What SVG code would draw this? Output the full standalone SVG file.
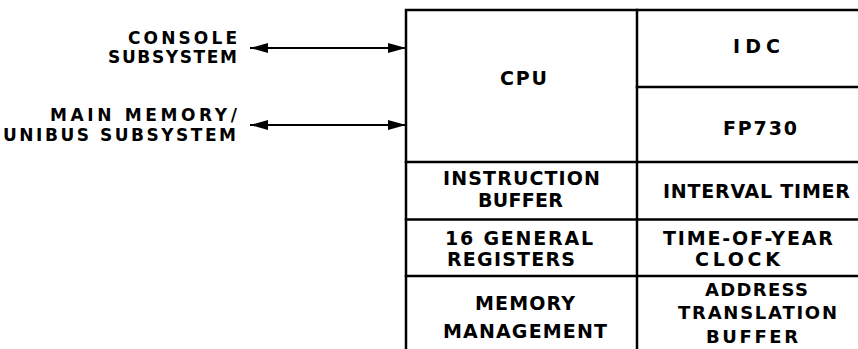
<svg xmlns="http://www.w3.org/2000/svg" width="858" height="349" viewBox="0 0 858 349">
  <style>
    .lbl { font-family: "DejaVu Sans", "Liberation Sans", sans-serif; font-weight: bold; font-size: 17px; fill: #000; }
    .cell { font-family: "DejaVu Sans", "Liberation Sans", sans-serif; font-weight: bold; font-size: 19px; fill: #000; }
    .tight { font-size: 18px; }
    .frame { stroke: #000; stroke-width: 2.5; fill: none; stroke-linecap: square; }
    .link { stroke: #000; stroke-width: 2.2; fill: none; }
  </style>
  <defs>
    <marker id="head" viewBox="0 0 18 10" refX="18" refY="5" markerWidth="18" markerHeight="10" markerUnits="userSpaceOnUse" orient="auto-start-reverse">
      <path d="M0,0 L18,5 L0,10 Z" fill="#000"/>
    </marker>
  </defs>

  <rect width="858" height="349" fill="#fff"/>

  <!-- processor block frame and cell dividers -->
  <g id="frame" class="frame">
    <path d="M406,349 V10 H860"/>
    <path d="M637,10 V349"/>
    <path d="M637,87 H860"/>
    <path d="M406,162 H860"/>
    <path d="M406,219.5 H860"/>
    <path d="M406,276 H860"/>
  </g>

  <!-- external subsystems -->
  <g id="console">
    <text class="lbl" x="128" y="44" textLength="109">CONSOLE</text>
    <text class="lbl" x="108" y="63" textLength="129">SUBSYSTEM</text>
  </g>
  <g id="main-memory">
    <text class="lbl" x="50" y="121" textLength="187">MAIN MEMORY/</text>
    <text class="lbl" x="3" y="141" textLength="233">UNIBUS SUBSYSTEM</text>
  </g>

  <!-- processor cells -->
  <g id="cpu"><text class="cell" x="500" y="85" textLength="47">CPU</text></g>
  <g id="idc"><text class="cell" x="733" y="53" textLength="47">IDC</text></g>
  <g id="fp730"><text class="cell" x="723" y="135" textLength="74">FP730</text></g>
  <g id="instruction-buffer">
    <text class="cell" x="443" y="185" textLength="157">INSTRUCTION</text>
    <text class="cell" x="478" y="206.5" textLength="85">BUFFER</text>
  </g>
  <g id="interval-timer"><text class="cell" x="663" y="198" textLength="187">INTERVAL TIMER</text></g>
  <g id="general-registers">
    <text class="cell" x="445" y="245" textLength="148">16 GENERAL</text>
    <text class="cell" x="447" y="266" textLength="128">REGISTERS</text>
  </g>
  <g id="time-of-year-clock">
    <text class="cell" x="663" y="245" textLength="170">TIME-OF-YEAR</text>
    <text class="cell" x="695" y="266" textLength="85">CLOCK</text>
  </g>
  <g id="memory-management">
    <text class="cell" x="475" y="310" textLength="100">MEMORY</text>
    <text class="cell" x="443" y="338" textLength="164">MANAGEMENT</text>
  </g>
  <g id="address-translation-buffer">
    <text class="cell tight" x="705" y="296" textLength="103">ADDRESS</text>
    <text class="cell tight" x="678" y="318.5" textLength="159">TRANSLATION</text>
    <text class="cell tight" x="706" y="342.5" textLength="92">BUFFER</text>
  </g>

  <!-- bidirectional links into the CPU -->
  <g id="connectors" class="link">
    <line x1="250" y1="48" x2="406" y2="48" marker-start="url(#head)" marker-end="url(#head)"/>
    <line x1="250" y1="125" x2="406" y2="125" marker-start="url(#head)" marker-end="url(#head)"/>
  </g>
</svg>
